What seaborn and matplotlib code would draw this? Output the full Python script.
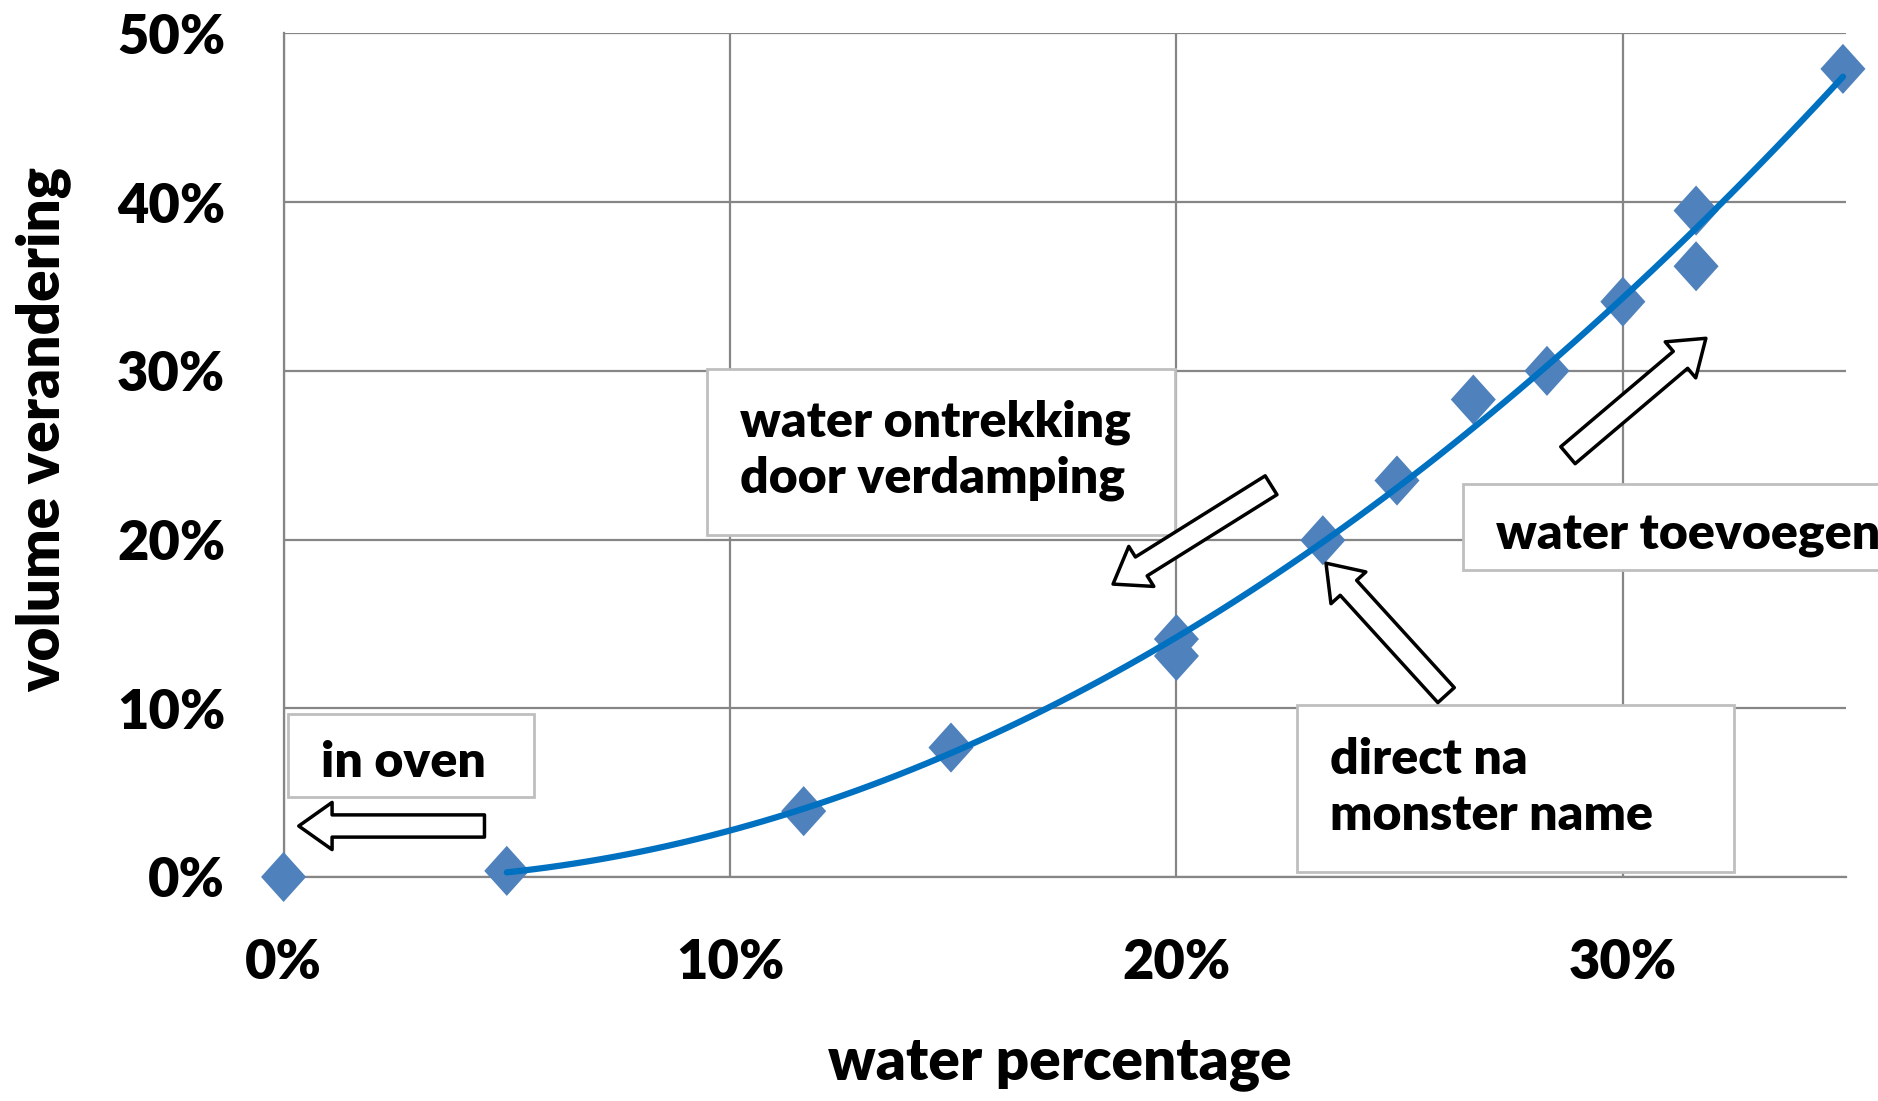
import numpy as np
import pandas as pd
import seaborn as sns
import matplotlib.pyplot as plt
from matplotlib.ticker import FuncFormatter, MultipleLocator

# Data (percent)
water_pct = [0.0, 5.0, 11.65, 14.95, 20.0, 20.0, 23.28, 24.94, 26.65, 28.3, 30.0, 31.64, 31.64, 34.93]
volume_change = [0.0, 0.36, 3.9, 7.67, 14.1, 13.1, 19.96, 23.5, 28.3, 30.0, 34.1, 39.5, 36.2, 47.9]

df = pd.DataFrame({'water': water_pct, 'volume': volume_change})
# trendline is fitted on the samples that still hold water
df_fit = df[df['water'] > 0]

marker_blue = '#4F81BD'
line_blue = '#0070C0'
grid_grey = '#868686'

sns.set_style('white')
plt.rcParams['font.family'] = ['Lato', 'DejaVu Sans']
plt.rcParams['font.weight'] = 'heavy'
plt.rcParams['axes.labelweight'] = 'heavy'
for key in ['text.color', 'axes.labelcolor', 'xtick.color', 'ytick.color']:
    plt.rcParams[key] = 'black'

fig = plt.figure(figsize=(18.78, 11.01), dpi=100)
ax = fig.add_axes([0.151, 0.2035, 0.832, 0.7661])

diamond = [(0, 0.5), (0.45, 0), (0, -0.5), (-0.45, 0)]
sns.scatterplot(data=df, x='water', y='volume', ax=ax, marker=diamond, s=50**2 * 0.52,
                color=marker_blue, edgecolor='none', linewidth=0, zorder=3, clip_on=False)
sns.regplot(data=df_fit, x='water', y='volume', ax=ax, order=2, ci=None, scatter=False,
            truncate=True, line_kws=dict(color=line_blue, lw=4.5, zorder=4))

ax.set_xlim(0, 35)
ax.set_ylim(0, 50)
ax.xaxis.set_major_locator(MultipleLocator(10))
ax.yaxis.set_major_locator(MultipleLocator(10))
pct = FuncFormatter(lambda v, p: f'{v:.0f}%')
ax.xaxis.set_major_formatter(pct)
ax.yaxis.set_major_formatter(pct)
ax.grid(True, color=grid_grey, lw=1.6)
ax.set_axisbelow(True)
for side in ['top', 'right']:
    ax.spines[side].set_visible(False)
for side in ['left', 'bottom']:
    ax.spines[side].set_color(grid_grey)
    ax.spines[side].set_linewidth(1.6)
ax.tick_params(axis='both', length=0, labelsize=39)
ax.tick_params(axis='y', pad=42)
ax.tick_params(axis='x', pad=44)

ax.set_xlabel('water percentage', fontsize=42, fontweight='heavy')
ax.set_ylabel('volume verandering', fontsize=42, fontweight='heavy')
ax.xaxis.set_label_coords(0.497, -0.222)
ax.xaxis.label.set_va('center')
ax.yaxis.set_label_coords(-0.1536, 0.53)
ax.yaxis.label.set_va('center')

# text boxes
boxes = [
    (0.11, 4.74, 5.49, 4.92),
    (9.49, 20.26, 10.48, 9.83),
    (26.42, 18.19, 9.5, 5.09),
    (22.70, 0.30, 9.79, 9.89),
]
for x0, y0, w, h in boxes:
    ax.add_patch(plt.Rectangle((x0, y0), w, h, fc='white', ec='#BFBFBF', lw=2,
                               zorder=5, clip_on=False))

notes = [
    (0.83, 6.81, 'in oven'),
    (10.23, 25.3, 'water ontrekking\ndoor verdamping'),
    (27.16, 20.26, 'water toevoegen'),
    (23.44, 5.3, 'direct na\nmonster name'),
]
for x, y, s in notes:
    ax.text(x, y, s, fontsize=36, fontweight='heavy', ha='left', va='center',
            linespacing=1.3, zorder=6, clip_on=False)

# block arrows (tail -> tip)
arrows = [
    ((4.50, 3.02), (0.34, 3.02)),
    ((22.12, 23.22), (18.58, 17.36)),
    ((26.04, 10.78), (23.35, 18.6)),
    ((28.77, 25.0), (31.86, 31.93)),
]
for tail, tip in arrows:
    ax.annotate('', xy=tip, xytext=tail, zorder=6,
                arrowprops=dict(arrowstyle='simple,head_length=24,head_width=34,tail_width=16',
                                mutation_scale=1, fc='white', ec='black', lw=2.5,
                                shrinkA=0, shrinkB=0))

fig.savefig('out.png', dpi=100)
